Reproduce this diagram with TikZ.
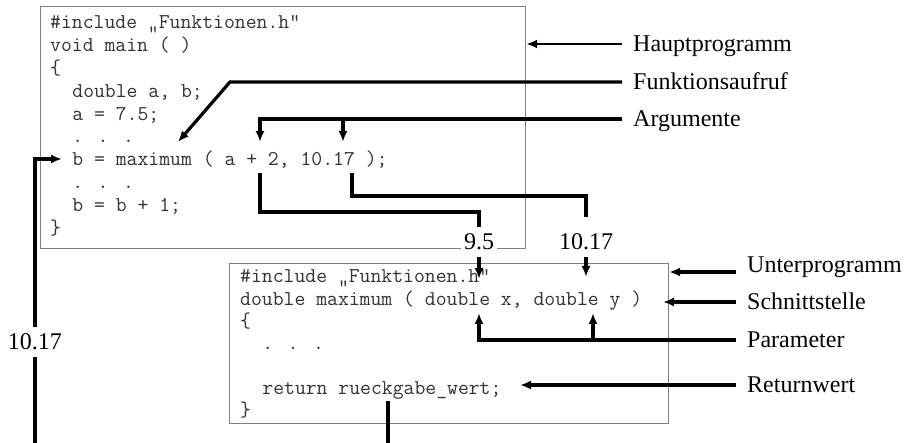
\documentclass[tikz,border=0pt]{standalone}
\usepackage{fontspec}
\setmainfont{Liberation Serif}
\newfontfamily\codefont[Ligatures=TeXOff]{Latin Modern Mono}
\usetikzlibrary{arrows.meta,positioning,calc}

\begin{document}
\begin{tikzpicture}[x=1pt,y=-1pt,
    codebox/.style={draw=black!50, line width=1.2pt, rectangle, anchor=north west, inner sep=0pt},
    code/.style={anchor=base west, inner sep=0pt, text=black!80, font=\codefont\fontsize{21.1}{24}\selectfont},
    lbl/.style={anchor=west, inner xsep=11pt, inner ysep=0pt, text height=16pt, text depth=0pt, font=\fontsize{24}{28}\selectfont},
    num/.style={fill=white, inner xsep=3pt, inner ysep=7pt, text height=16pt, text depth=0pt, font=\fontsize{24}{28}\selectfont},
    conn/.style={line width=3.2pt, -{Latex[length=11pt,width=9pt]}},
    wire/.style={line width=3.2pt}]
  \useasboundingbox (0,0) rectangle (905,443);
  \clip (0,0) rectangle (905,443);

  % Hauptprogramm
  \node[codebox, minimum width=485pt, minimum height=242pt] (main) at (40,6) {};
  \node[code] (m1) at (50,29) {\#include „Funktionen.h"};
  \node[code] (m2) at (50,51.8) {void main ( )};
  \node[code] (m3) at (50,74.6) {\{};
  \node[code] (m4) at (72.2,97.4) {double a, b;};
  \node[code] (m5) at (72.2,120.2) {a = 7.5;};
  \node[code] (m6) at (72.2,143) {. . .};
  \node[code] (m7) at (72.2,165.8) {b = maximum ( a + 2, 10.17 );};
  \node[code] (m8) at (72.2,188.6) {. . .};
  \node[code] (m9) at (72.2,211.4) {b = b + 1;};
  \node[code] (m10) at (50,234.2) {\}};

  % Unterprogramm
  \node[codebox, minimum width=439pt, minimum height=160pt] (sub) at (229,263) {};
  \node[code] (s1) at (240,283) {\#include „Funktionen.h"};
  \node[code] (s2) at (240,305.3) {double maximum ( double x, double y )};
  \node[code] (s3) at (240,327.6) {\{};
  \node[code] (s4) at (262.2,349.9) {. . .};
  \node[code] (s6) at (262.2,394.5) {return rueckgabe\_wert;};
  \node[code] (s7) at (240,416.8) {\}};

  % Werte
  \node[num] (v95) at (479,242) {9.5};
  \node[num] (v1017) at (586,242) {10.17};
  \node[num] (vret) at (35,342) {10.17};

  % Beschriftungen
  \node[lbl] (lHaupt) at (622,44) {Hauptprogramm};
  \node[lbl] (lFunk) at (622,82) {Funktionsaufruf};
  \node[lbl] (lArg) at (622,119) {Argumente};
  \node[lbl] (lUnter) at (736,265) {Unterprogramm};
  \node[lbl] (lSchn) at (736,302) {Schnittstelle};
  \node[lbl] (lPar) at (736,340) {Parameter};
  \node[lbl] (lRet) at (736,385) {Returnwert};

  % Punkte im Code
  \coordinate (fknick) at (230,82);
  \coordinate (callpt) at (178,142);
  \coordinate (argA) at (260,142);
  \coordinate (argB) at (343,142);
  \coordinate (srcA) at (260,173);
  \coordinate (srcB) at (352,173);
  \coordinate (inX) at (479,279);
  \coordinate (inY) at (586,277);
  \coordinate (parX) at (479,313);
  \coordinate (parY) at (593,313);
  \coordinate (schnpt) at (663,302);
  \coordinate (retval) at (520,385);
  \coordinate (retpt) at (388,401);
  \coordinate (callst) at (62,159);
  \coordinate (uarr) at ([yshift=-7pt]lUnter.west);

  % Pfeile
  \draw[conn, line width=2.4pt] (lHaupt.west) -- (lHaupt.west -| main.east);
  \draw[conn] (lFunk.west) -- (fknick) -- (callpt);
  \draw[conn] (lArg.west) -| (argA);
  \draw[conn] (argB |- lArg.west) -- (argB);
  \draw[wire] (srcA) -- ++(0,39) -| (v95.north);
  \draw[wire] (srcB) -- ++(0,23) -| ([yshift=10pt]v1017.north);
  \draw[conn] (v95.south) -- (inX);
  \draw[conn] (v1017.south) -- (inY);
  \draw[conn] (uarr) -- (uarr -| sub.east);
  \draw[conn] (lSchn.west) -- (schnpt);
  \draw[conn] (lPar.west) -| (parX);
  \draw[conn] (parY |- lPar.west) -- (parY);
  \draw[conn] (lRet.west) -- (retval);
  \draw[wire] (retpt) -- ++(0,70) -| (vret.south);
  \draw[conn] (vret.north) |- (callst);
\end{tikzpicture}
\end{document}
